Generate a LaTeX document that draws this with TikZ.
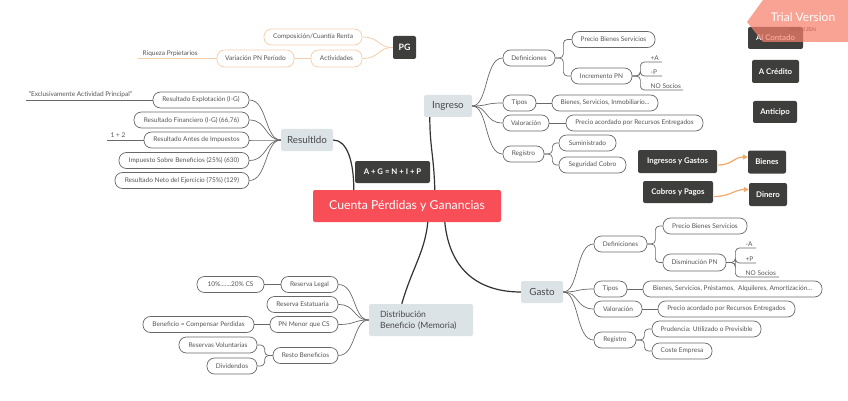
\documentclass[tikz,border=0pt]{standalone}
\usepackage{fontspec}
\setmainfont{Lato}
\usetikzlibrary{calc,arrows.meta}
\definecolor{darkbox}{RGB}{62,62,60}
\definecolor{redbox}{RGB}{248,78,88}
\definecolor{topic}{RGB}{220,227,230}
\definecolor{ttext}{RGB}{70,72,74}
\definecolor{lgray}{RGB}{105,105,105}
\definecolor{tgray}{RGB}{85,85,85}
\definecolor{peach}{RGB}{245,205,170}
\definecolor{orarrow}{RGB}{240,170,110}
\definecolor{wmark}{RGB}{246,128,108}
\definecolor{mainline}{RGB}{50,50,50}
\tikzset{
  leaf/.style={draw=lgray, line width=0.7pt, rounded corners=7.5pt, fill=white, text=tgray,
    font=\fontsize{6.5}{7.5}\selectfont, minimum height=16pt, inner sep=0pt},
  orleaf/.style={leaf, draw=peach},
  maintopic/.style={fill=topic, rounded corners=2pt, text=ttext, font=\fontsize{9.8}{11}\selectfont,
    minimum height=22pt, inner sep=0pt},
  darkb/.style={fill=darkbox, rounded corners=2pt, text=white, font=\bfseries\fontsize{7.8}{9}\selectfont,
    minimum height=22pt, inner sep=0pt},
  plain/.style={text=tgray, font=\fontsize{6.5}{7.5}\selectfont, inner sep=0.5pt},
  conn/.style={draw=lgray, line width=0.7pt},
  pconn/.style={draw=peach, line width=0.8pt},
  mconn/.style={draw=mainline, line width=1.2pt},
  bracket/.style={conn, rounded corners=4pt},
  lcurve/.style={to path={.. controls +(-16,0) and +(18,0) .. (\tikztotarget)}},
  rcurve/.style={to path={.. controls +(16,0) and +(-18,0) .. (\tikztotarget)}},
  oarrow/.style={draw=orarrow, line width=1.2pt, -{Triangle[length=5pt,width=5pt]}},
}
\begin{document}
\begin{tikzpicture}[x=1pt,y=-1pt]
\useasboundingbox (0,0) rectangle (848,401);
\fill[white] (0,0) rectangle (848,401);

% ---------- center ----------
\node[fill=redbox, rounded corners=2pt, text=white, font=\fontsize{12.3}{14}\selectfont,
  minimum width=188pt, minimum height=32pt, inner sep=0pt] (cen) at (407,206) {Cuenta Pérdidas y Ganancias};

% ---------- main topics ----------
\node[maintopic, minimum width=52pt] (res) at (307,140) {Resultldo};
\node[maintopic, minimum width=48pt] (ing) at (448,106) {Ingreso};
\node[maintopic, minimum width=42pt] (gas) at (542,292) {Gasto};
\node[fill=topic, rounded corners=2pt, text=ttext, font=\fontsize{8.6}{11}\selectfont,
  text width=82pt, inner xsep=11pt, inner ysep=0pt, minimum height=32pt, align=left] (dis) at (421,320)
  {Distribución\\Beneficio (Memoria)};

% main connectors
\draw[mconn] ($(cen.north west)+(41,0)$) .. controls +(0,-28) and +(14,0) .. (res.east);
\draw[mconn] ($(cen.north west)+(122,0)$) .. controls +(-1,-35) and +(0,30) .. ($(ing.south west)+(6,0)$);
\draw[mconn] ($(cen.south west)+(115,0)$) .. controls +(-3,30) and +(10,-35) .. ($(dis.north west)+(33,0)$);
\draw[mconn] ($(cen.south west)+(132,0)$) .. controls +(5,50) and +(-40,0) .. (gas.west);

\node[darkb, minimum width=75pt] (apg) at (392.5,172) {A + G = N + I + P};

% ---------- PG ----------
\node[darkb, minimum width=23pt, minimum height=23pt, font=\bfseries\fontsize{8.8}{10}\selectfont] (pg) at (404.5,47.5) {PG};
\node[orleaf, minimum width=98pt] (comp) at (313,37) {Composición/Cuantía Renta};
\node[orleaf, minimum width=51pt, minimum height=17pt] (act) at (336.5,58.5) {Actividades};
\node[orleaf, minimum width=77pt, minimum height=17pt] (var) at (255.5,58.5) {Variación PN Período};
\node[plain, anchor=south west] (riq) at (142,57) {Riqueza Prpietarios};
\coordinate (riqS) at (138,58.5);
\draw[pconn] (pg.west) to[lcurve] (comp.east);
\draw[pconn] (pg.west) to[lcurve] (act.east);
\draw[pconn] (act.west) -- (var.east);
\draw[pconn] (riqS) -- (var.west);

% ---------- Resultado ----------
\node[leaf, minimum width=96pt] (expl) at (201,100) {Resultado Explotación (I-G)};
\node[leaf, minimum width=115pt] (fin) at (191.5,120) {Resultado Financiero (I-G) (66,76)};
\node[leaf, minimum width=105pt] (antes) at (196.5,140) {Resultado Antes de Impuestos};
\node[leaf, minimum width=130pt] (imp) at (184,160.5) {Impuesto Sobre Beneficios (25\%) (630)};
\node[leaf, minimum width=134pt] (neto) at (182,180.5) {Resultado Neto del Ejercicio (75\%) (129)};
\foreach \n in {expl,fin,antes,imp,neto} \draw[conn] (res.west) to[lcurve] (\n.east);
\node[plain, anchor=south west] (excl) at (28,98.5) {"Exclusivamente Actividad Principal"};
\coordinate (exclS) at (26,100);
\draw[conn] (exclS) -- (expl.west);
\node[plain, anchor=south west] (unodos) at (110,138.5) {1 + 2};
\coordinate (unodosS) at (107,140);
\draw[conn] (unodosS) -- (antes.west);

% ---------- Ingreso ----------
\node[leaf, minimum width=52pt] (idef) at (529,58) {Definiciones};
\node[leaf, minimum width=83pt] (iprec) at (613.5,39.5) {Precio Bienes Servicios};
\node[leaf, minimum width=61pt] (iinc) at (601.5,76) {Incremento PN};
\node[leaf, minimum width=33pt] (itip) at (519.5,103) {Tipos};
\node[leaf, minimum width=106pt] (itipl) at (605,103) {Bienes, Servicios, Inmobiliario...};
\node[leaf, minimum width=46pt] (ival) at (526,123) {Valoración};
\node[leaf, minimum width=137pt] (ivall) at (634.5,123) {Precio acordado por Recursos Entregados};
\node[leaf, minimum width=41pt] (ireg) at (523.5,154) {Registro};
\node[leaf, minimum width=57pt] (isum) at (587.5,143) {Suministrado};
\node[leaf, minimum width=67pt] (iseg) at (592.5,165) {Seguridad Cobro};
\foreach \n in {idef,itip,ival,ireg} \draw[conn] (ing.east) to[rcurve] (\n.west);
\draw[bracket] (idef.east) -- ++(8,0) |- (iprec.west);
\draw[bracket] (idef.east) -- ++(8,0) |- (iinc.west);
\draw[conn] (itip.east) -- (itipl.west);
\draw[conn] (ival.east) -- (ivall.west);
\draw[bracket] (ireg.east) -- ++(8,0) |- (isum.west);
\draw[bracket] (ireg.east) -- ++(8,0) |- (iseg.west);
\node[plain, anchor=south west] (ia) at (650,61) {+A};
\node[plain, anchor=south west] (ip) at (650,75) {-P};
\node[plain, anchor=south west] (ins) at (650,89) {NO Socios};
\coordinate (iaE) at (662,62);
\coordinate (ipE) at (662,76);
\coordinate (insE) at (683,90);
\draw[bracket] (iinc.east) -- ++(8,0) |- (iaE);
\draw[bracket] (iinc.east) -- ++(8,0) |- (ipE);
\draw[bracket] (iinc.east) -- ++(8,0) |- (insE);

% ---------- Gasto ----------
\node[leaf, minimum width=53pt] (gdef) at (620.5,244) {Definiciones};
\node[leaf, minimum width=84pt] (gprec) at (705,226) {Precio Bienes Servicios};
\node[leaf, minimum width=63pt, minimum height=17pt] (gdis) at (694.5,262.5) {Disminución PN};
\node[leaf, minimum width=33pt] (gtip) at (610.5,289) {Tipos};
\node[leaf, minimum width=179pt] (gtipl) at (732.5,289) {Bienes, Servicios, Préstamos,\ \ Alquileres, Amortización...};
\node[leaf, minimum width=48pt] (gval) at (618,309) {Valoración};
\node[leaf, minimum width=137pt] (gvall) at (726.5,309) {Precio acordado por Recursos Entregados};
\node[leaf, minimum width=42pt] (greg) at (615,340) {Registro};
\node[leaf, minimum width=109pt] (gpru) at (706.5,329) {Prudencia: Utilizado o Previsible};
\node[leaf, minimum width=60pt] (gcos) at (682,351) {Coste Empresa};
\foreach \n in {gdef,gtip,gval,greg} \draw[conn] (gas.east) to[rcurve] (\n.west);
\draw[bracket] (gdef.east) -- ++(8,0) |- (gprec.west);
\draw[bracket] (gdef.east) -- ++(8,0) |- (gdis.west);
\draw[conn] (gtip.east) -- (gtipl.west);
\draw[conn] (gval.east) -- (gvall.west);
\draw[bracket] (greg.east) -- ++(8,0) |- (gpru.west);
\draw[bracket] (greg.east) -- ++(8,0) |- (gcos.west);
\node[plain, anchor=south west] (ga) at (745,247) {-A};
\node[plain, anchor=south west] (gp) at (745,262) {+P};
\node[plain, anchor=south west] (gns) at (745,276) {NO Socios};
\coordinate (gaE) at (756,248);
\coordinate (gpE) at (756,263);
\coordinate (gnsE) at (779,277);
\draw[bracket] (gdis.east) -- ++(9,0) |- (gaE);
\draw[bracket] (gdis.east) -- ++(9,0) |- (gpE);
\draw[bracket] (gdis.east) -- ++(9,0) |- (gnsE);

% ---------- Distribucion ----------
\node[leaf, minimum width=57pt] (rleg) at (309.5,284.5) {Reserva Legal};
\node[leaf, minimum width=71pt] (rest) at (302.5,304.5) {Reserva Estatuaria};
\node[leaf, minimum width=68pt] (pnm) at (304,324.5) {PN Menor que CS};
\node[leaf, minimum width=65pt] (rresto) at (305.5,355.5) {Resto Beneficios};
\node[leaf, minimum width=67pt] (diez) at (230.5,284.5) {10\%.......20\% CS};
\node[leaf, minimum width=111pt] (bcp) at (198.5,324.5) {Beneficio = Compensar Perdidas};
\node[leaf, minimum width=78pt] (rvol) at (218,345) {Reservas Voluntarias};
\node[leaf, minimum width=50pt] (divd) at (232,366) {Dividendos};
\foreach \n in {rleg,rest,pnm,rresto} \draw[conn] (dis.west) to[lcurve] (\n.east);
\draw[conn] (rleg.west) -- (diez.east);
\draw[conn] (pnm.west) -- (bcp.east);
\draw[bracket] (rresto.west) -- ++(-8,0) |- (rvol.east);
\draw[bracket] (rresto.west) -- ++(-8,0) |- (divd.east);

% ---------- right dark boxes ----------
\node[darkb, minimum width=55pt] (alc) at (775.5,38) {Al Contado};
\node[darkb, minimum width=47pt, minimum height=23pt] (acr) at (775.5,71.5) {A Crédito};
\node[darkb, minimum width=44pt] (ant) at (775,112) {Anticipo};
\node[darkb, minimum width=79pt, minimum height=23pt] (iyg) at (677.5,161.5) {Ingresos y Gastos};
\node[darkb, minimum width=38pt, minimum height=23pt] (bien) at (767,162) {Bienes};
\node[darkb, minimum width=70pt] (cyp) at (678,192) {Cobros y Pagos};
\node[darkb, minimum width=38pt, minimum height=23pt] (din) at (768,194.5) {Dinero};
\draw[oarrow] ($(iyg.east)+(1,3.5)$) .. controls +(14,0) and +(-14,0) .. ($(bien.west)+(0,-5)$);
\draw[oarrow] ($(cyp.east)+(1,4.5)$) .. controls +(16,0) and +(-14,0) .. ($(din.west)+(0,-5)$);

% ---------- watermark ----------
\fill[wmark, opacity=0.72] (747,22) -- (763,0) -- (848,0) -- (848,42) -- (763,42) -- cycle;
\node[text=white, font=\fontsize{12}{13}\selectfont, inner sep=0pt] (wm) at (803,17) {Trial Version};
\node[text=wmark!75!black, font=\fontsize{5}{6}\selectfont, inner sep=0pt] (wm2) at (803,30) {XMind ZEN};
\end{tikzpicture}
\end{document}
